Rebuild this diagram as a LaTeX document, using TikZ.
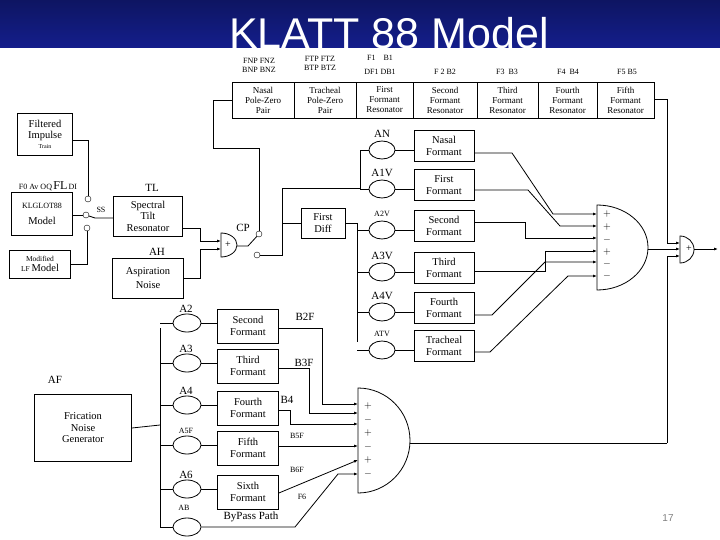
\documentclass[tikz,border=0pt]{standalone}
\usepackage{fontspec}
\setmainfont{Liberation Serif}
\newfontfamily\titlefont{Liberation Sans}
\usetikzlibrary{shapes.geometric,arrows.meta}
\definecolor{bandblue}{RGB}{20,30,140}
\tikzset{
    blk/.style={draw, thick, rectangle, align=center, inner sep=1pt,
        font=\fontsize{10.5}{11.5}\selectfont},
    res/.style={blk, minimum height=36pt, font=\fontsize{9}{10}\selectfont},
    amp/.style={draw, thick, ellipse, minimum width=26pt, minimum height=18pt, inner sep=0pt},
    pin/.style={draw, circle, inner sep=0pt, minimum size=6pt, fill=white},
    lbl/.style={font=\fontsize{11}{12}\selectfont, inner sep=0pt},
    sml/.style={font=\fontsize{8}{9}\selectfont, inner sep=0pt},
    sgn/.style={font=\fontsize{10}{11}\selectfont, inner sep=0pt},
    wire/.style={thick},
    feed/.style={thick, -{Latex[length=4pt,width=3pt]}},
}
\begin{document}
\begin{tikzpicture}[x=1pt, y=-1pt]
    \useasboundingbox (0,0) rectangle (720,540);
    \fill[white] (0,0) rectangle (720,540);
    \shade[top color=bandblue!70!black, bottom color=bandblue] (0,0) rectangle (720,48);
    \node[text=white, inner sep=0pt, font=\titlefont\fontsize{43}{43}\selectfont, anchor=base] (title) at (389,49) {KLATT 88 Model};

    % top resonator row
    \foreach \n/\xa/\xb/\txt in {
        np/232/294/{Nasal\\Pole-Zero\\Pair}, tp/294/356/{Tracheal\\Pole-Zero\\Pair},
        r1/356/413/{First\\Formant\\Resonator}, r2/413/477/{Second\\Formant\\Resonator},
        r3/477/538/{Third\\Formant\\Resonator}, r4/538/597/{Fourth\\Formant\\Resonator},
        r5/597/654/{Fifth\\Formant\\Resonator}%
    } {
        \node[res, minimum width=\xb pt-\xa pt] (\n) at ({(\xa+\xb)/2},100) {\txt};
    }
    \foreach \n/\x/\y/\txt in {
        pnp/259/65/{FNP FNZ\\BNP BNZ}, ptp/320/63/{FTP FTZ\\BTP BTZ},
        pr1a/380/58/{F1\quad B1}, pr1b/380/72/{DF1 DB1}, pr2/445/72/{F 2 B2},
        pr3/507/72/{F3\enspace B3}, pr4/568/72/{F4\enspace B4}, pr5/627/72/{F5 B5}%
    } {
        \node[sml, align=center] (\n) at (\x,\y) {\txt};
    }

    % voicing sources
    \node[blk, minimum width=55pt, minimum height=42pt] (imp) at (45,134)
        {Filtered\\Impulse\\[-2pt]{\fontsize{6}{7}\selectfont Train}};
    \node[lbl] (srcp) at (48,186) {\fontsize{8}{9}\selectfont F0 Av OQ\,{\fontsize{12}{12}\selectfont FL}\,DI};
    \node[blk, minimum width=61pt, minimum height=43pt] (klg) at (42,214)
        {{\fontsize{8}{9}\selectfont KLGLOT88}\\[4pt]Model};
    \node[blk, minimum width=61pt, minimum height=28pt] (lfm) at (40,264)
        {{\fontsize{7.5}{8}\selectfont Modified}\\[-1pt]{\fontsize{7.5}{8}\selectfont LF}\,Model};
    \node[pin] (ssa) at (88,199) {};
    \node[pin] (ssm) at (86,215) {};
    \node[pin] (ssb) at (87,228) {};
    \node[sml] (sslbl) at (101,210) {SS};
    \draw[wire] (imp.east |- 0,140) -| (ssa);
    \draw[wire] (klg.east |- ssm) -- (ssm);
    \draw[wire] (lfm.east) -| (ssb);

    \node[blk, minimum width=69pt, minimum height=40pt] (tl) at (148,216) {Spectral\\Tilt\\Resonator};
    \node[lbl] (tllbl) at (152,188) {TL};
    \node[blk, minimum width=71pt, minimum height=40pt] (ah) at (148,278) {Aspiration\\[3pt]Noise};
    \node[lbl] (ahlbl) at (157,252) {AH};
    \draw[wire] (ssm) -- (95,218) -- (tl.west |- 0,218);

    % voicing adder and CP switch
    \draw[thick] (221,233) -- (221,257) arc[start angle=90, end angle=-90, x radius=16, y radius=12] -- cycle;
    \node[sgn] (cpsgn) at (228,245) {+};
    \draw[feed] (tl.east |- 0,228) -| (200,241) -- (221,241);
    \draw[feed] (ah.east) -| (200,249) -- (221,249);
    \node[pin] (cpa) at (259,234) {};
    \node[pin] (cpb) at (257,255) {};
    \node[lbl] (cplbl) at (243,228) {CP};
    \draw[wire] (237,246) -- (248,246) -- (cpa);
    \draw[wire] (cpa) -- (259,148) -- (213,148) |- (np.west);

    \node[blk, minimum width=44pt, minimum height=30pt] (dif) at (323,223) {First\\Diff};
    \draw[wire] (cpb) -| (282,188) -- (360,188) -- (360,150);
    \draw[wire] (282,223) -- (dif.west);
    \draw[wire] (dif.east) -- (357,223);
    \draw[wire] (357,223) -- (357,342);

    % parallel cascade bank
    \foreach \n/\y/\a/\txt/\st in {
        an/146/AN/{Nasal\\Formant}/lbl, a1/185/A1V/{First\\Formant}/lbl,
        a2/226/A2V/{Second\\Formant}/sml, a3/268/A3V/{Third\\Formant}/lbl,
        a4/308/A4V/{Fourth\\Formant}/lbl, at/346/ATV/{Tracheal\\Formant}/sml%
    } {
        \node[amp] (g\n) at (382,\y+4) {};
        \node[\st] (l\n) at (382,\y-12) {\a};
        \node[blk, minimum width=60pt, minimum height=31pt] (f\n) at (444,\y) {\txt};
        \draw[wire] (g\n) -- (f\n.west |- g\n);
    }
    \draw[wire] (360,150) -- (gan);
    \draw[wire] (360,189) -- (ga1);
    \foreach \n in {a2,a3,a4,at} { \draw[wire] (357,0 |- g\n) -- (g\n); }

    % summing unit 1
    \draw[thick] (597,205) -- (597,290) arc[start angle=90, end angle=-90, x radius=51, y radius=42.5] -- cycle;
    \foreach \s/\y in {+/214, +/227, -/240, +/252, -/264, -/276} { \node[sgn] at (607,\y) {$\s$}; }
    \draw[feed] (fan.east |- 0,153) -- (512,153) -- (553,214) -- (597,214);
    \draw[feed] (fa1.east |- 0,190) -- (528,190) -- (560,226) -- (597,226);
    \draw[feed] (fa2.east |- 0,222) -- (525,222) |- (597,238);
    \draw[feed] (fa3.east |- 0,271) -- (545,271) |- (597,251);
    \draw[feed] (fa4.east |- 0,315) -- (492,315) -- (545,262) -- (597,262);
    \draw[feed] (fat.east |- 0,352) -- (490,352) -- (568,276) -- (597,276);

    % final adder
    \draw[thick] (680,236) -- (680,263) arc[start angle=90, end angle=-90, x radius=14, y radius=13.5] -- cycle;
    \node[sgn] (fsgn) at (689,249) {+};
    \coordinate (outp) at (718,249);
    \draw[feed] (694,249) -- (outp);
    \draw[feed] (648,249) -- (680,249);
    \draw[feed] (r5.east |- 0,99) -- (667,99) |- (680,243);
    \draw[feed] (667,443) |- (680,256);

    % frication branch
    \node[blk, minimum width=97pt, minimum height=67pt] (fric) at (83,428) {Frication\\Noise\\Generator};
    \node[lbl] (aflbl) at (55,380) {AF};
    \draw[wire] (fric.east) -- (160,425);
    \draw[wire] (160,328) -- (160,528);
    \foreach \n/\y/\a/\txt/\st in {
        b2/326/A2/{Second\\Formant}/lbl, b3/366/A3/{Third\\Formant}/lbl,
        b4/408/A4/{Fourth\\Formant}/lbl, b5/448/A5F/{Fifth\\Formant}/sml,
        b6/492/A6/{Sixth\\Formant}/lbl%
    } {
        \node[amp, minimum width=28pt] (g\n) at (187,\y-3) {};
        \node[\st] (l\n) at (186,\y-17) {\a};
        \node[blk, minimum width=61pt, minimum height=34pt] (f\n) at (248,\y) {\txt};
        \draw[wire] (g\n) -- (f\n.west |- g\n);
        \draw[wire] (160,0 |- g\n) -- (g\n);
    }
    \node[amp, minimum width=28pt] (gab) at (187,527) {};
    \node[sml] (lab) at (184,508) {AB};
    \node[lbl] (bypass) at (251,517) {ByPass Path};
    \draw[wire] (160,0 |- gab) -- (gab);

    % summing unit 3
    \draw[thick] (358,388) -- (358,493) arc[start angle=90, end angle=-90, x radius=52, y radius=52.5] -- cycle;
    \foreach \s/\y in {+/406, -/420, +/433, -/447, +/460, -/474} { \node[sgn] at (368,\y) {$\s$}; }
    \node[lbl] (b2f) at (305,317) {B2F};
    \node[lbl] (b3f) at (304,363) {B3F};
    \node[lbl] (b4f) at (287,400) {B4};
    \node[sml] (b5f) at (297,436) {B5F};
    \node[sml] (b6f) at (297,470) {B6F};
    \node[sml] (f6) at (302,497) {F6};
    \draw[feed] (fb2.east |- 0,328) -- (322,328) |- (358,404);
    \draw[feed] (fb3.east |- 0,368) -- (309,368) |- (358,413);
    \draw[feed] (fb4.east |- 0,410) -- (290,410) |- (358,424);
    \draw[feed] (fb5.east |- 0,446) -- (358,446);
    \draw[feed] (fb6.east |- 0,493) -- (358,460);
    \draw[feed] (gab) -- (295,527) -- (338,474) -- (358,474);
    \draw[wire] (410,443) -- (667,443);

    \node[text=gray, font=\titlefont\fontsize{10}{10}\selectfont] (pgno) at (668,518) {17};
\end{tikzpicture}
\end{document}
